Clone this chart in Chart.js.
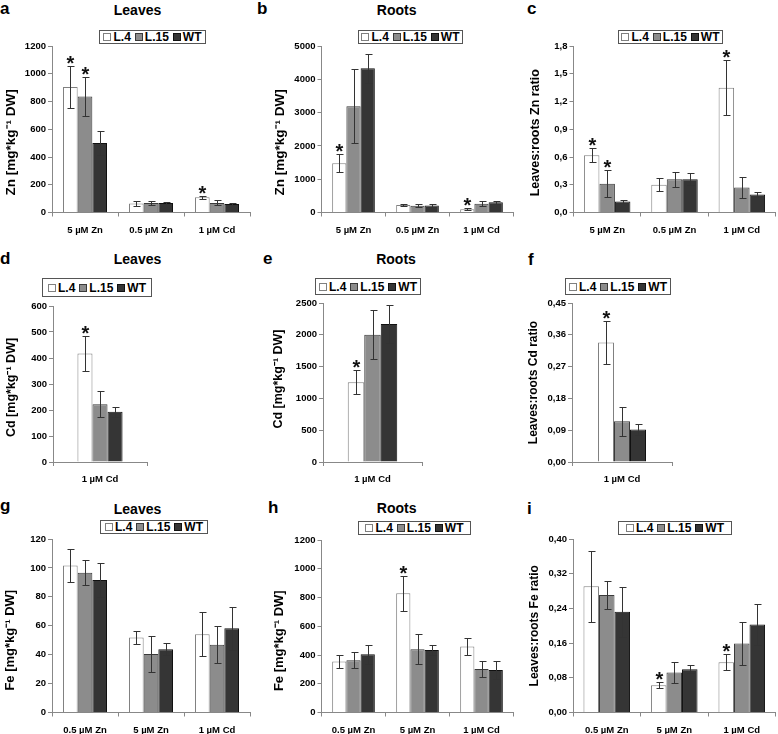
<!DOCTYPE html>
<html><head><meta charset="utf-8">
<script src="https://cdn.jsdelivr.net/npm/chart.js@4.4.1/dist/chart.umd.min.js"></script>
<style>
html,body{margin:0;padding:0;background:#fff;overflow:hidden;}
body{width:778px;height:734px;position:relative;font-family:"Liberation Sans",Arial,sans-serif;color:#000;}
canvas{position:absolute;}
.lbl{position:absolute;font-weight:bold;font-size:17px;line-height:17px;}
.ttl{position:absolute;font-weight:bold;font-size:14px;line-height:16px;transform:translateX(-50%);white-space:nowrap;}
.leg{position:absolute;box-sizing:border-box;border:1px solid #555;background:#fff;display:flex;align-items:center;justify-content:center;font-weight:bold;font-size:12px;line-height:12px;white-space:nowrap;}
.leg .it{display:flex;align-items:center;margin:0 2px;}
.leg .sw{display:inline-block;width:8px;height:8px;box-sizing:border-box;border:1px solid #333;margin-right:2px;}
</style></head><body>
<script>
// ---------- categories / series / tick labels ----------
const seriesNames = ['L.4', 'L.15', 'WT'];
const znCats = ['5 µM Zn', '0.5 µM Zn', '1 µM Cd'];
const cdCats = ['1 µM Cd'];
const feCats = ['0.5 µM Zn', '5 µM Zn', '1 µM Cd'];

// (a) Zn in leaves
const znLeavesL4 = [905, 65, 110];
const znLeavesL15 = [836, 68, 69];
const znLeavesWT = [501, 68, 61];
const znLeavesErrL4 = [153, 16, 12];
const znLeavesErrL15 = [137, 16, 18];
const znLeavesErrWT = [86, 6, 7];
const znLeavesStarL4 = [1, 0, 1];
const znLeavesStarL15 = [1, 0, 0];
const znLeavesStarWT = [0, 0, 0];

// (b) Zn in roots
const znRootsL4 = [1477, 225, 100];
const znRootsL15 = [3190, 200, 265];
const znRootsWT = [4330, 210, 310];
const znRootsErrL4 = [275, 20, 35];
const znRootsErrL15 = [1110, 45, 75];
const znRootsErrWT = [440, 40, 45];
const znRootsStarL4 = [1, 0, 1];
const znRootsStarL15 = [0, 0, 0];
const znRootsStarWT = [0, 0, 0];

// (c) Zn leaves:roots ratio
const znRatioL4 = [0.62, 0.30, 1.35];
const znRatioL15 = [0.31, 0.36, 0.27];
const znRatioWT = [0.12, 0.36, 0.195];
const znRatioErrL4 = [0.077, 0.072, 0.295];
const znRatioErrL15 = [0.147, 0.081, 0.11];
const znRatioErrWT = [0.018, 0.063, 0.032];
const znRatioStarL4 = [1, 0, 1];
const znRatioStarL15 = [1, 0, 0];
const znRatioStarWT = [0, 0, 0];

// (d) Cd in leaves
const cdLeavesL4 = [417];
const cdLeavesL15 = [222];
const cdLeavesWT = [193];
const cdLeavesErrL4 = [66];
const cdLeavesErrL15 = [50];
const cdLeavesErrWT = [20];
const cdLeavesStarL4 = [1];
const cdLeavesStarL15 = [0];
const cdLeavesStarWT = [0];

// (e) Cd in roots
const cdRootsL4 = [1253];
const cdRootsL15 = [2002];
const cdRootsWT = [2170];
const cdRootsErrL4 = [191];
const cdRootsErrL15 = [383];
const cdRootsErrWT = [293];
const cdRootsStarL4 = [1];
const cdRootsStarL15 = [0];
const cdRootsStarWT = [0];

// (f) Cd leaves:roots ratio
const cdRatioL4 = [0.338];
const cdRatioL15 = [0.115];
const cdRatioWT = [0.092];
const cdRatioErrL4 = [0.061];
const cdRatioErrL15 = [0.04];
const cdRatioErrWT = [0.015];
const cdRatioStarL4 = [1];
const cdRatioStarL15 = [0];
const cdRatioStarWT = [0];

// (g) Fe in leaves
const feLeavesL4 = [101.6, 51.8, 54.1];
const feLeavesL15 = [96.7, 40.5, 46.8];
const feLeavesWT = [91.7, 43.8, 58.3];
const feLeavesErrL4 = [11.5, 4.4, 15.2];
const feLeavesErrL15 = [8.6, 12.7, 12.7];
const feLeavesErrWT = [11.5, 4.3, 15];
const feLeavesStarL4 = [0, 0, 0];
const feLeavesStarL15 = [0, 0, 0];
const feLeavesStarWT = [0, 0, 0];

// (h) Fe in roots
const feRootsL4 = [354, 829, 459];
const feRootsL15 = [364, 440, 302];
const feRootsWT = [405, 435, 296];
const feRootsErrL4 = [44, 122, 60];
const feRootsErrL15 = [54, 106, 58];
const feRootsErrWT = [68, 32, 60];
const feRootsStarL4 = [0, 1, 0];
const feRootsStarL15 = [0, 0, 0];
const feRootsStarWT = [0, 0, 0];

// (i) Fe leaves:roots ratio
const feRatioL4 = [0.291, 0.063, 0.116];
const feRatioL15 = [0.271, 0.092, 0.159];
const feRatioWT = [0.232, 0.100, 0.203];
const feRatioErrL4 = [0.082, 0.0065, 0.018];
const feRatioErrL15 = [0.033, 0.024, 0.05];
const feRatioErrWT = [0.057, 0.009, 0.048];
const feRatioStarL4 = [0, 1, 1];
const feRatioStarL15 = [0, 0, 0];
const feRatioStarWT = [0, 0, 0];

// tick labels
const ticksZnLeaves = ['0', '200', '400', '600', '800', '1000', '1200'];
const ticksZnRoots = ['0', '1000', '2000', '3000', '4000', '5000'];
const ticksZnRatio = ['0,0', '0,3', '0,6', '0,9', '1,2', '1,5', '1,8'];
const ticksCdLeaves = ['0', '100', '200', '300', '400', '500', '600'];
const ticksCdRoots = ['0', '500', '1000', '1500', '2000', '2500'];
const ticksCdRatio = ['0,00', '0,09', '0,18', '0,27', '0,36', '0,45'];
const ticksFeLeaves = ['0', '20', '40', '60', '80', '100', '120'];
const ticksFeRoots = ['0', '200', '400', '600', '800', '1000', '1200'];
const ticksFeRatio = ['0,00', '0,08', '0,16', '0,24', '0,32', '0,40'];

// ---------- styles ----------
const FONT = '"Liberation Sans", Arial, sans-serif';
const fills = ['#ffffff', '#8c8c8c', '#353535'];
const borders = ['#808080', '#3a3a3a', '#111111'];
Chart.defaults.font.family = FONT;
Chart.defaults.color = '#000';

const errPlugin = {
  id: 'errbars',
  afterDatasetsDraw(chart) {
    const ctx = chart.ctx, ys = chart.scales.y;
    chart.data.datasets.forEach((ds, k) => {
      const meta = chart.getDatasetMeta(k);
      meta.data.forEach((bar, i) => {
        const v = ds.data[i], e = ds.errs[i];
        const yt = Math.round(ys.getPixelForValue(v + e)) + 0.5;
        const yb = Math.round(ys.getPixelForValue(v - e)) + 0.5;
        const x = Math.round(bar.x) + 0.5;
        ctx.save();
        ctx.strokeStyle = '#333';
        ctx.lineWidth = 1;
        ctx.beginPath();
        ctx.moveTo(x, yt); ctx.lineTo(x, yb);
        ctx.moveTo(x - 3, yt); ctx.lineTo(x + 4, yt);
        ctx.moveTo(x - 3, yb); ctx.lineTo(x + 4, yb);
        ctx.stroke();
        if (ds.stars[i]) {
          ctx.fillStyle = '#111';
          ctx.font = 'bold 20px ' + FONT;
          ctx.textAlign = 'center';
          ctx.textBaseline = 'alphabetic';
          ctx.fillText('*', x, yt + 3);
        }
        ctx.restore();
      });
    });
  }
};

function makePanel(p) {
  const g = p.geo;
  const left = Math.floor(g.colLeft);
  const top = Math.floor(g.y0 - 12);
  const W = Math.min(778 - left, Math.ceil(g.x1 + 5 - left));
  const H = Math.ceil(g.y1 + 30 - top);
  const yW = g.x0 - left;
  const xH = H - (g.y1 - top);
  const cv = document.createElement('canvas');
  cv.width = W; cv.height = H;
  cv.style.left = left + 'px'; cv.style.top = top + 'px';
  cv.style.width = W + 'px'; cv.style.height = H + 'px';
  document.body.appendChild(cv);
  // pad the axis title with spaces so its visible text sits where the reference has it
  const sp = n => ' '.repeat(Math.max(0, n));
  const yTitleText = sp(-p.yTitleShift) + p.yTitle + sp(p.yTitleShift);
  new Chart(cv, {
    type: 'bar',
    data: {
      labels: p.cats,
      datasets: p.series.map((vals, k) => ({
        label: seriesNames[k], data: vals, errs: p.errs[k], stars: p.stars[k],
        backgroundColor: fills[k], borderColor: borders[k], borderWidth: 1,
        categoryPercentage: p.catPct, barPercentage: 1
      }))
    },
    options: {
      responsive: false, animation: false, devicePixelRatio: 1,
      layout: { padding: { left: 0, top: g.y0 - top, right: W - (g.x1 - left), bottom: 0 } },
      plugins: { legend: { display: false }, title: { display: false }, tooltip: { enabled: false } },
      scales: {
        x: {
          grid: { display: true, drawOnChartArea: false, drawTicks: true, tickLength: 4, color: '#888', offset: true },
          border: { display: true, color: '#888' },
          ticks: { font: { size: 9.5, weight: 'bold' }, color: '#000', padding: 8, maxRotation: 0, autoSkip: false },
          afterFit: s => { s.height = xH; }
        },
        y: {
          min: 0, max: p.yMax,
          ticks: { stepSize: p.yStep, font: { size: 9.5, weight: 'bold' }, color: '#000', padding: 2,
                   callback: (v, i) => (p.tickLabels[i] !== undefined ? p.tickLabels[i] : v) },
          grid: { drawOnChartArea: false, drawTicks: true, tickLength: 4, color: '#888' },
          border: { display: true, color: '#888' },
          title: { display: true, text: yTitleText, font: { size: p.yTitleSize, weight: 'bold' }, padding: 0, color: '#000' },
          afterFit: s => { s.width = yW; }
        }
      }
    },
    plugins: [errPlugin]
  });

  // legend (HTML)
  const L = p.legend;
  const d = document.createElement('div');
  d.className = 'leg';
  d.style.left = L.x + 'px'; d.style.top = L.y + 'px';
  d.style.width = L.w + 'px'; d.style.height = L.h + 'px';
  seriesNames.forEach((n, k) => {
    const it = document.createElement('span'); it.className = 'it';
    const sw = document.createElement('span'); sw.className = 'sw';
    sw.style.background = fills[k]; sw.style.borderColor = borders[k];
    const tx = document.createElement('span'); tx.textContent = n;
    it.appendChild(sw); it.appendChild(tx); d.appendChild(it);
  });
  document.body.appendChild(d);

  // panel letter
  const lb = document.createElement('div');
  lb.className = 'lbl'; lb.textContent = p.letter;
  lb.style.left = p.letterPos.x + 'px'; lb.style.top = (p.letterPos.base - 14.4) + 'px';
  document.body.appendChild(lb);

  // panel title
  if (p.title) {
    const t = document.createElement('div');
    t.className = 'ttl'; t.textContent = p.title;
    t.style.left = p.titlePos.cx + 'px'; t.style.top = (p.titlePos.cy - 7.85) + 'px';
    document.body.appendChild(t);
  }
}

const unitTitle = el => el + ' [mg*kg\u207B\u00B9 DW]';

const panels = [
  { letter: 'a', title: 'Leaves', cats: znCats,
    series: [znLeavesL4, znLeavesL15, znLeavesWT], errs: [znLeavesErrL4, znLeavesErrL15, znLeavesErrWT],
    stars: [znLeavesStarL4, znLeavesStarL15, znLeavesStarWT],
    yMax: 1200, yStep: 200, tickLabels: ticksZnLeaves, yTitle: unitTitle('Zn'), yTitleSize: 13.5, yTitleShift: 7, catPct: 0.667,
    geo: { colLeft: 3, x0: 52, x1: 250, y0: 46, y1: 212.5 },
    legend: { x: 99, y: 30, w: 107, h: 14 }, letterPos: { x: 0, base: 14 }, titlePos: { cx: 137.5, cy: 9.5 } },
  { letter: 'b', title: 'Roots', cats: znCats,
    series: [znRootsL4, znRootsL15, znRootsWT], errs: [znRootsErrL4, znRootsErrL15, znRootsErrWT],
    stars: [znRootsStarL4, znRootsStarL15, znRootsStarWT],
    yMax: 5000, yStep: 1000, tickLabels: ticksZnRoots, yTitle: unitTitle('Zn'), yTitleSize: 13.5, yTitleShift: 7, catPct: 0.667,
    geo: { colLeft: 272, x0: 321.5, x1: 513.5, y0: 46, y1: 212.5 },
    legend: { x: 358, y: 30, w: 105, h: 14 }, letterPos: { x: 257, base: 14 }, titlePos: { cx: 396.7, cy: 9.5 } },
  { letter: 'c', title: null, cats: znCats,
    series: [znRatioL4, znRatioL15, znRatioWT], errs: [znRatioErrL4, znRatioErrL15, znRatioErrWT],
    stars: [znRatioStarL4, znRatioStarL15, znRatioStarWT],
    yMax: 1.8, yStep: 0.3, tickLabels: ticksZnRatio, yTitle: 'Leaves:roots Zn ratio', yTitleSize: 12.5, yTitleShift: 2, catPct: 0.69,
    geo: { colLeft: 528, x0: 573.5, x1: 775.5, y0: 46, y1: 212.5 },
    legend: { x: 618, y: 30, w: 105, h: 14 }, letterPos: { x: 527, base: 14 } },
  { letter: 'd', title: 'Leaves', cats: cdCats,
    series: [cdLeavesL4, cdLeavesL15, cdLeavesWT], errs: [cdLeavesErrL4, cdLeavesErrL15, cdLeavesErrWT],
    stars: [cdLeavesStarL4, cdLeavesStarL15, cdLeavesStarWT],
    yMax: 600, yStep: 100, tickLabels: ticksCdLeaves, yTitle: unitTitle('Cd'), yTitleSize: 12.5, yTitleShift: 2, catPct: 0.48,
    geo: { colLeft: 4.5, x0: 53, x1: 147, y0: 306, y1: 462 },
    legend: { x: 42, y: 278, w: 110, h: 19 }, letterPos: { x: 0, base: 264 }, titlePos: { cx: 137.5, cy: 258.7 } },
  { letter: 'e', title: 'Roots', cats: cdCats,
    series: [cdRootsL4, cdRootsL15, cdRootsWT], errs: [cdRootsErrL4, cdRootsErrL15, cdRootsErrWT],
    stars: [cdRootsStarL4, cdRootsStarL15, cdRootsStarWT],
    yMax: 2500, yStep: 500, tickLabels: ticksCdRoots, yTitle: unitTitle('Cd'), yTitleSize: 12.5, yTitleShift: -2, catPct: 0.5,
    geo: { colLeft: 271, x0: 323, x1: 422, y0: 303, y1: 462 },
    legend: { x: 315, y: 278, w: 106, h: 17 }, letterPos: { x: 263, base: 264 }, titlePos: { cx: 396, cy: 258.7 } },
  { letter: 'f', title: null, cats: cdCats,
    series: [cdRatioL4, cdRatioL15, cdRatioWT], errs: [cdRatioErrL4, cdRatioErrL15, cdRatioErrWT],
    stars: [cdRatioStarL4, cdRatioStarL15, cdRatioStarWT],
    yMax: 0.45, yStep: 0.09, tickLabels: ticksCdRatio, yTitle: 'Leaves:roots Cd ratio', yTitleSize: 12, yTitleShift: 0, catPct: 0.48,
    geo: { colLeft: 526, x0: 572, x1: 672, y0: 303, y1: 462 },
    legend: { x: 565, y: 278, w: 106, h: 17 }, letterPos: { x: 528, base: 265 } },
  { letter: 'g', title: 'Leaves', cats: feCats,
    series: [feLeavesL4, feLeavesL15, feLeavesWT], errs: [feLeavesErrL4, feLeavesErrL15, feLeavesErrWT],
    stars: [feLeavesStarL4, feLeavesStarL15, feLeavesStarWT],
    yMax: 120, yStep: 20, tickLabels: ticksFeLeaves, yTitle: unitTitle('Fe'), yTitleSize: 13, yTitleShift: 8, catPct: 0.667,
    geo: { colLeft: 3, x0: 52, x1: 250, y0: 539, y1: 712.5 },
    legend: { x: 100, y: 520, w: 108, h: 14 }, letterPos: { x: 0, base: 511.7 }, titlePos: { cx: 137.5, cy: 509 } },
  { letter: 'h', title: 'Roots', cats: feCats,
    series: [feRootsL4, feRootsL15, feRootsWT], errs: [feRootsErrL4, feRootsErrL15, feRootsErrWT],
    stars: [feRootsStarL4, feRootsStarL15, feRootsStarWT],
    yMax: 1200, yStep: 200, tickLabels: ticksFeRoots, yTitle: unitTitle('Fe'), yTitleSize: 13, yTitleShift: 8, catPct: 0.667,
    geo: { colLeft: 272, x0: 321.5, x1: 513.5, y0: 540, y1: 712.5 },
    legend: { x: 358, y: 521, w: 113, h: 14 }, letterPos: { x: 268, base: 513 }, titlePos: { cx: 396.7, cy: 508 } },
  { letter: 'i', title: null, cats: feCats,
    series: [feRatioL4, feRatioL15, feRatioWT], errs: [feRatioErrL4, feRatioErrL15, feRatioErrWT],
    stars: [feRatioStarL4, feRatioStarL15, feRatioStarWT],
    yMax: 0.40, yStep: 0.08, tickLabels: ticksFeRatio, yTitle: 'Leaves:roots Fe ratio', yTitleSize: 12, yTitleShift: 0, catPct: 0.69,
    geo: { colLeft: 527, x0: 573, x1: 775.5, y0: 539, y1: 712.5 },
    legend: { x: 618, y: 521, w: 114, h: 14 }, letterPos: { x: 527, base: 514 } }
];

panels.forEach(makePanel);
</script>
</body></html>
